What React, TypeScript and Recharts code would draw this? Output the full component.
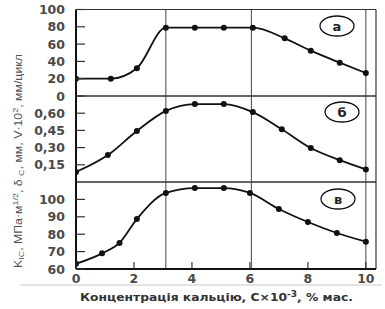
import React from 'react';
import { LineChart, Line, XAxis, YAxis, ReferenceLine } from 'recharts';

// concentration points (C×10^-3, % мас.) and readings for each panel
const concA = [0, 1.2, 2.1, 3.1, 4.1, 5.1, 6.1, 7.2, 8.1, 9.1, 10];
const kicA = [20, 20, 32, 79, 79, 79, 79, 66.7, 52.4, 38.5, 26.6];

const concB = [0, 1.1, 2.1, 3.1, 4.1, 5.1, 6.1, 7.1, 8.1, 9.1, 10];
const deltaB = [0.087, 0.235, 0.445, 0.62, 0.68, 0.68, 0.61, 0.46, 0.296, 0.19, 0.11];

const concC = [0, 0.9, 1.5, 2.1, 3.1, 4.1, 5.1, 6, 7, 8, 9, 10];
const speedC = [63, 69, 75, 88.7, 103.7, 106.5, 106.5, 103.7, 94.5, 87, 80.7, 75.7];

const ticksA = [0, 20, 40, 60, 80, 100];
const ticksB = [0.15, 0.3, 0.45, 0.6];
const ticksC = [60, 70, 80, 90, 100];
const ticksX = [0, 2, 4, 6, 8, 10];
const markerLines = [3.1, 6.05, 10];

const X_MAX = 10.35;
const INK = '#111';
const TICK_FONT = { fontFamily: 'DejaVu Sans', fontWeight: 700, fontSize: 12.5, fill: '#4a4a4a' };

const toRows = (xs: number[], ys: number[]) => xs.map((x, i) => ({ x, y: ys[i] }));

const YTick = (props: any) => {
  const { x, y, payload, fmt } = props;
  return (
    <g>
      <line x1={x} x2={x + 9} y1={y} y2={y} stroke="#333" strokeWidth={1.2} />
      <text x={x - 11} y={y} dy={4.5} textAnchor="end" {...TICK_FONT}>
        {fmt(payload.value)}
      </text>
    </g>
  );
};

const XTick = (props: any) => {
  const { x, y, payload } = props;
  return (
    <g>
      <line x1={x} x2={x} y1={y} y2={y - 7} stroke="#333" strokeWidth={1.2} />
      <text x={x} y={y + 13.5} textAnchor="middle" {...TICK_FONT}>
        {payload.value}
      </text>
    </g>
  );
};

interface PanelProps {
  rows: { x: number; y: number }[];
  domain: [number, number];
  ticks: number[];
  fmt: (v: number) => string;
  top: number;
  bottom: number;
  showX?: boolean;
}

function Panel({ rows, domain, ticks, fmt, top, bottom, showX }: PanelProps) {
  return (
    <div style={{ position: 'absolute', left: 0, top: 0 }}>
      <LineChart width={385} height={309} data={rows} margin={{ top, bottom, left: 0, right: 9 }}>
        <XAxis
          type="number"
          dataKey="x"
          domain={[0, X_MAX]}
          allowDataOverflow
          hide={!showX}
          ticks={ticksX}
          interval={0}
          height={20}
          tickSize={0}
          tickMargin={0}
          tick={(p: any) => <XTick {...p} />}
          axisLine={{ stroke: INK, strokeWidth: 2 }}
        />
        <YAxis
          type="number"
          domain={domain}
          allowDataOverflow
          ticks={ticks}
          interval={0}
          width={76}
          tickSize={0}
          tickMargin={0}
          tick={(p: any) => <YTick {...p} fmt={fmt} />}
          axisLine={{ stroke: INK, strokeWidth: 2 }}
        />
        {markerLines.map((m) => (
          <ReferenceLine key={m} x={m} stroke="#444" strokeWidth={1} />
        ))}
        <ReferenceLine x={X_MAX} stroke="#333" strokeWidth={1.2} />
        <ReferenceLine y={domain[1]} stroke="#333" strokeWidth={1.2} />
        {!showX && <ReferenceLine y={domain[0]} stroke="#333" strokeWidth={1.2} />}
        <Line
          type="monotone"
          dataKey="y"
          stroke={INK}
          strokeWidth={1.8}
          dot={{ r: 3, fill: INK, stroke: INK, strokeWidth: 0 }}
          activeDot={false}
          isAnimationActive={false}
        />
      </LineChart>
    </div>
  );
}

const comma = (v: number) => v.toFixed(2).replace('.', ',');

export default function App() {
  const labels = [
    { t: 'а', cx: 337, cy: 26 },
    { t: 'б', cx: 342, cy: 112 },
    { t: 'в', cx: 338, cy: 199 },
  ];
  return (
    <div style={{ position: 'absolute', left: 0, top: 0, width: 385, height: 309, background: '#fff' }}>
      <Panel rows={toRows(concA, kicA)} domain={[0, 100]} ticks={ticksA} fmt={String} top={9.5} bottom={213} />
      <Panel rows={toRows(concB, deltaB)} domain={[0, 0.75]} ticks={ticksB} fmt={comma} top={96} bottom={127} />
      <Panel rows={toRows(concC, speedC)} domain={[60, 110]} ticks={ticksC} fmt={String} top={182} bottom={20} showX />
      <svg width={385} height={309} style={{ position: 'absolute', left: 0, top: 0, pointerEvents: 'none' }}>
        {labels.map((l) => (
          <g key={l.t}>
            <ellipse cx={l.cx} cy={l.cy} rx={17} ry={10} fill="#fff" stroke={INK} strokeWidth={1.3} />
            <text x={l.cx} y={l.cy + 4.5} textAnchor="middle" fontFamily="DejaVu Sans" fontWeight={700} fontSize={13} fill="#222">
              {l.t}
            </text>
          </g>
        ))}
        <line x1={20} x2={382} y1={285} y2={285} stroke="#e4e4e4" strokeWidth={2} />
        <text
          x={22}
          y={161}
          transform="rotate(-90 22 161)"
          textAnchor="middle"
          fontFamily="'Liberation Sans Narrow', 'Liberation Sans', sans-serif"
          fontSize={11}
          fill="#555"
          textLength={214}
          lengthAdjust="spacingAndGlyphs"
        >
          K<tspan dy={2} fontSize={8}>IC</tspan>
          <tspan dy={-2}>, МПа·м</tspan>
          <tspan dy={-4} fontSize={8}>1/2</tspan>
          <tspan dy={4}>, δ </tspan>
          <tspan dy={2} fontSize={8}>С</tspan>
          <tspan dy={-2}>, мм, V·10</tspan>
          <tspan dy={-4} fontSize={8}>2</tspan>
          <tspan dy={4}>, мм/цикл</tspan>
        </text>
        <text
          x={80}
          y={301}
          fontFamily="DejaVu Sans"
          fontWeight={700}
          fontSize={11}
          fill="#333"
          textLength={273}
          lengthAdjust="spacingAndGlyphs"
        >
          Концентрація кальцію, С×10<tspan dy={-4} fontSize={8}>-3</tspan>
          <tspan dy={4}>, % мас.</tspan>
        </text>
      </svg>
    </div>
  );
}
